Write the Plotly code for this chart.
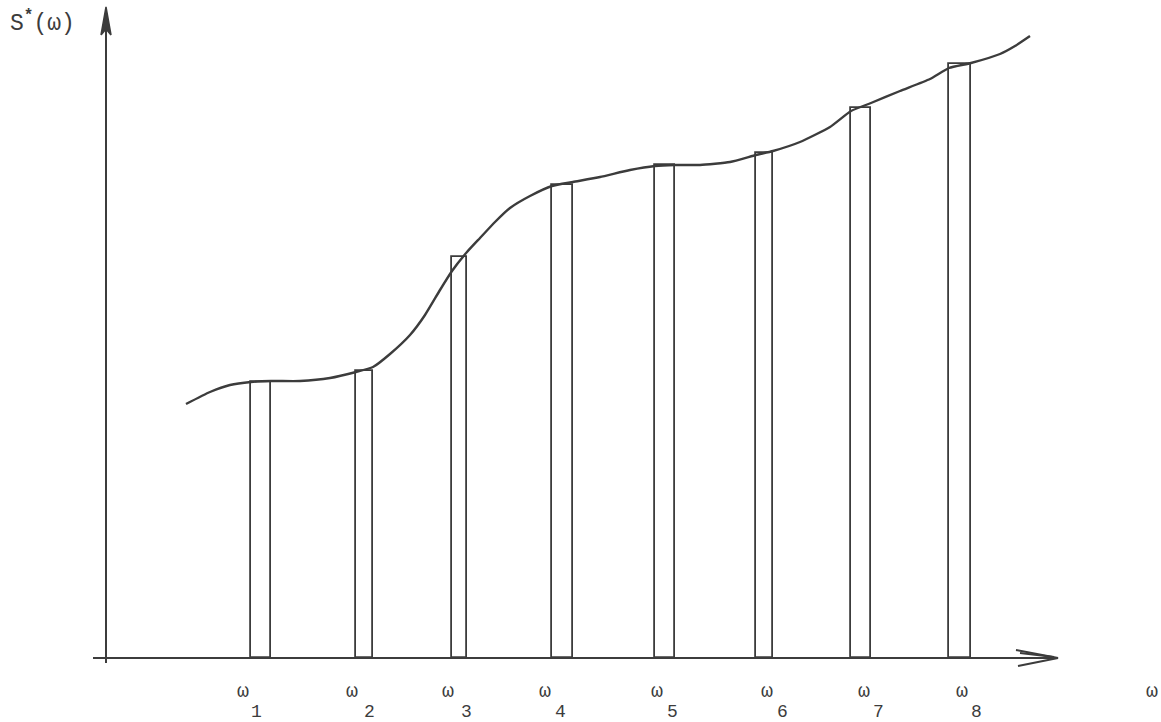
import plotly.graph_objects as go

# ---- data (units: horizontal/vertical distance from the axis origin) ----
bar_labels = ["1", "2", "3", "4", "5", "6", "7", "8"]
bar_centers = [155, 258.5, 353.5, 456.5, 559, 658.5, 755, 854]
bar_widths = [20, 17, 15, 21, 20, 17, 20, 22]
bar_heights = [276, 287, 401, 473, 493, 505, 550, 594]

curve_x = [80, 104, 124, 145, 165, 194, 224, 250, 267, 284, 304, 319, 334, 346,
           361, 374, 389, 404, 424, 446, 467, 494, 524, 549, 569, 594, 624, 650,
           667, 694, 724, 745, 765, 794, 824, 843, 865, 894, 909, 924]
curve_y = [254, 266, 273, 276, 277, 277, 280, 286, 291, 304, 323, 343, 368, 387,
           406, 420, 436, 450, 462, 472, 476, 481, 488, 492, 493, 493, 496, 503,
           507, 516, 531, 547, 555, 567, 579, 590, 595, 604, 612, 622]

omega_label_x = [137, 246, 342, 439, 551, 661, 758, 856]
sub_label_x = [150, 263, 360, 454, 566, 676, 772, 870]

INK = "#3c3c3c"
FONT = "Liberation Mono"

# axis extents
Y_TOP = 651
X_END = 952

fig = go.Figure()

# bars drawn as open rectangles
fig.add_trace(go.Bar(
    x=bar_centers, y=bar_heights, width=bar_widths, base=0,
    marker=dict(color="rgba(0,0,0,0)", line=dict(color=INK, width=1.8)),
    hoverinfo="skip", showlegend=False,
))

# the curve S*(omega)
fig.add_trace(go.Scatter(
    x=curve_x, y=curve_y, mode="lines",
    line=dict(color=INK, width=2.4, shape="spline", smoothing=0.5),
    hoverinfo="skip", showlegend=False,
))

# vertical axis
fig.add_trace(go.Scatter(
    x=[0, 0], y=[-5, Y_TOP - 4], mode="lines",
    line=dict(color=INK, width=2), hoverinfo="skip", showlegend=False,
))
# narrow filled arrow head on the vertical axis
fig.add_trace(go.Scatter(
    x=[-5, 0, 5, 0, -5], y=[Y_TOP - 28, Y_TOP, Y_TOP - 28, Y_TOP - 22, Y_TOP - 28],
    mode="lines", fill="toself", fillcolor=INK,
    line=dict(color=INK, width=1.5), hoverinfo="skip", showlegend=False,
))

# horizontal axis
fig.add_trace(go.Scatter(
    x=[-13, X_END - 2], y=[0, 0], mode="lines",
    line=dict(color=INK, width=2), hoverinfo="skip", showlegend=False,
))
# open double-stroke arrow head on the horizontal axis
fig.add_trace(go.Scatter(
    x=[X_END - 42, X_END, X_END - 40, None, X_END - 38, X_END - 4],
    y=[8, 0, -8, None, 5, 1],
    mode="lines", line=dict(color=INK, width=2),
    hoverinfo="skip", showlegend=False,
))

annotations = []
for lab, ox, sx in zip(bar_labels, omega_label_x, sub_label_x):
    annotations.append(dict(
        x=ox, y=-33, xref="x", yref="y", text="ω", showarrow=False,
        font=dict(family=FONT, size=20, color=INK), xanchor="center", yanchor="middle",
    ))
    annotations.append(dict(
        x=sx, y=-54, xref="x", yref="y", text=lab, showarrow=False,
        font=dict(family=FONT, size=18, color=INK), xanchor="center", yanchor="middle",
    ))

annotations.append(dict(
    x=1046, y=-33, xref="x", yref="y", text="ω", showarrow=False,
    font=dict(family=FONT, size=20, color=INK), xanchor="center", yanchor="middle",
))

annotations.append(dict(
    x=-98, y=636, xref="x", yref="y",
    text="S<sup><b>*</b></sup>(ω)", showarrow=False,
    font=dict(family=FONT, size=23, color=INK), xanchor="left", yanchor="middle",
))

fig.update_layout(
    width=1161, height=722, autosize=False,
    margin=dict(l=0, r=0, t=0, b=0),
    paper_bgcolor="white", plot_bgcolor="white",
    xaxis=dict(range=[-106, 1055], visible=False, fixedrange=True),
    yaxis=dict(range=[-64, 658], visible=False, fixedrange=True),
    annotations=annotations,
    bargap=0,
)

fig.write_html(
    "out.html",
    config={"displayModeBar": False},
    post_script="document.body.style.margin='0';document.body.style.overflow='hidden';",
)
